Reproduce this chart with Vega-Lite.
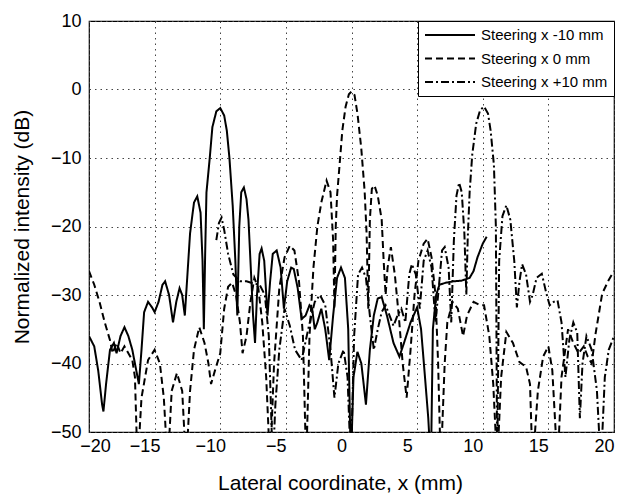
{
  "$schema": "https://vega.github.io/schema/vega-lite/v6.json",
  "width": 525,
  "height": 411,
  "autosize": {"type": "none"},
  "padding": {"left": 89, "top": 21, "right": 4, "bottom": 63},
  "config": {
    "font": "Liberation Sans",
    "view": {"stroke": "black", "strokeWidth": 1.2},
    "axis": {"labelFontSize": 18, "titleFontSize": 21, "titleFontWeight": "normal", "labelColor": "black", "titleColor": "black", "domain": false, "ticks": false, "labelFlush": false, "gridColor": "#444", "gridDash": [1.5, 4], "gridWidth": 1, "gridOpacity": 1},
    "legend": {"labelFontSize": 15, "labelColor": "black", "symbolStrokeColor": "black", "symbolStrokeWidth": 2, "symbolType": "stroke", "symbolSize": 2500, "fillColor": "white", "strokeColor": "black", "padding": 6, "rowPadding": 7.5, "clipHeight": 16, "labelOffset": 5, "orient": "top-right", "offset": 0, "title": null, "labelLimit": 300}
  },
  "datasets": {
    "m10": [
      {"x":-20,"y":-36},{"x":-19.6,"y":-37.5},{"x":-19.3,"y":-41},{"x":-19.0,"y":-46},{"x":-18.9,"y":-47},{"x":-18.7,"y":-43},{"x":-18.4,"y":-38},{"x":-18.1,"y":-37},{"x":-17.9,"y":-38.5},{"x":-17.6,"y":-36},{"x":-17.3,"y":-34.7},{"x":-17.0,"y":-36},{"x":-16.7,"y":-38},{"x":-16.4,"y":-41},{"x":-16.2,"y":-43},{"x":-16.0,"y":-38},{"x":-15.8,"y":-32.5},{"x":-15.5,"y":-31},{"x":-15.2,"y":-31.8},{"x":-15.0,"y":-32.5},{"x":-14.7,"y":-31},{"x":-14.4,"y":-28.5},{"x":-14.2,"y":-28},{"x":-13.9,"y":-30},{"x":-13.6,"y":-34},{"x":-13.35,"y":-31},{"x":-13.1,"y":-29},{"x":-12.9,"y":-30},{"x":-12.7,"y":-33},{"x":-12.5,"y":-27},{"x":-12.3,"y":-21},{"x":-12.0,"y":-16.5},{"x":-11.75,"y":-15.6},{"x":-11.5,"y":-18},{"x":-11.35,"y":-25},{"x":-11.25,"y":-35},{"x":-11.15,"y":-24},{"x":-11.05,"y":-15},{"x":-10.8,"y":-10},{"x":-10.6,"y":-5.5},{"x":-10.3,"y":-3.2},{"x":-10.0,"y":-2.7},{"x":-9.7,"y":-3.8},{"x":-9.5,"y":-6},{"x":-9.3,"y":-10},{"x":-9.05,"y":-17},{"x":-8.85,"y":-25},{"x":-8.7,"y":-33},{"x":-8.55,"y":-20},{"x":-8.4,"y":-15},{"x":-8.2,"y":-14.3},{"x":-8.0,"y":-16},{"x":-7.85,"y":-19},{"x":-7.7,"y":-25},{"x":-7.5,"y":-33},{"x":-7.35,"y":-37},{"x":-7.2,"y":-30},{"x":-7.0,"y":-24},{"x":-6.85,"y":-23.2},{"x":-6.65,"y":-25},{"x":-6.4,"y":-33},{"x":-6.2,"y":-28},{"x":-6.0,"y":-24},{"x":-5.7,"y":-23.5},{"x":-5.4,"y":-26},{"x":-5.15,"y":-32},{"x":-4.9,"y":-28},{"x":-4.6,"y":-26},{"x":-4.4,"y":-26.2},{"x":-4.1,"y":-29},{"x":-3.8,"y":-33.5},{"x":-3.5,"y":-33},{"x":-3.2,"y":-31.5},{"x":-3.0,"y":-32},{"x":-2.8,"y":-35},{"x":-2.6,"y":-34},{"x":-2.3,"y":-32},{"x":-2.0,"y":-35},{"x":-1.7,"y":-39.5},{"x":-1.4,"y":-33},{"x":-1.1,"y":-27.5},{"x":-0.8,"y":-26},{"x":-0.5,"y":-27.5},{"x":-0.25,"y":-35},{"x":-0.05,"y":-55},{"x":0.15,"y":-42},{"x":0.45,"y":-38.3},{"x":0.75,"y":-40},{"x":1.1,"y":-46},{"x":1.4,"y":-38},{"x":1.7,"y":-33},{"x":2.0,"y":-30.5},{"x":2.3,"y":-30.3},{"x":2.7,"y":-33},{"x":3.2,"y":-37},{"x":3.65,"y":-39},{"x":4.0,"y":-37},{"x":4.5,"y":-34},{"x":5.0,"y":-31.8},{"x":5.3,"y":-35},{"x":5.6,"y":-42},{"x":5.85,"y":-48},{"x":6.05,"y":-55},{"x":6.2,"y":-35},{"x":6.45,"y":-30},{"x":6.7,"y":-28.5},{"x":7.2,"y":-28.2},{"x":7.8,"y":-28},{"x":8.4,"y":-27.9},{"x":9.0,"y":-27.5},{"x":9.3,"y":-26.5},{"x":9.6,"y":-24.5},{"x":10.0,"y":-22.5},{"x":10.3,"y":-21.5}
    ],
    "z0": [
      {"x":-20,"y":-26.5},{"x":-19.6,"y":-28.5},{"x":-19.2,"y":-31},{"x":-18.8,"y":-34},{"x":-18.4,"y":-36.6},{"x":-18.2,"y":-38.5},{"x":-17.9,"y":-37},{"x":-17.6,"y":-38.5},{"x":-17.3,"y":-37.5},{"x":-17.0,"y":-38.5},{"x":-16.7,"y":-39.5},{"x":-16.5,"y":-42},{"x":-16.3,"y":-55},{"x":-16.0,"y":-45},{"x":-15.5,"y":-39.5},{"x":-15.0,"y":-38},{"x":-14.6,"y":-40},{"x":-14.3,"y":-45},{"x":-14.0,"y":-55},{"x":-13.7,"y":-44},{"x":-13.3,"y":-41.4},{"x":-12.9,"y":-44},{"x":-12.6,"y":-55},{"x":-12.3,"y":-44},{"x":-12.0,"y":-38},{"x":-11.6,"y":-34.7},{"x":-11.2,"y":-37},{"x":-10.9,"y":-40},{"x":-10.7,"y":-43},{"x":-10.4,"y":-41},{"x":-10.0,"y":-38.5},{"x":-9.7,"y":-32},{"x":-9.4,"y":-28.8},{"x":-9.1,"y":-28.2},{"x":-8.8,"y":-30},{"x":-8.5,"y":-34},{"x":-8.3,"y":-38.5},{"x":-8.0,"y":-36},{"x":-7.7,"y":-31},{"x":-7.4,"y":-27.5},{"x":-7.1,"y":-29},{"x":-6.8,"y":-34},{"x":-6.5,"y":-42},{"x":-6.2,"y":-55},{"x":-5.9,"y":-40},{"x":-5.5,"y":-29},{"x":-5.1,"y":-24.5},{"x":-4.7,"y":-22.8},{"x":-4.35,"y":-23.5},{"x":-4.0,"y":-28},{"x":-3.7,"y":-36},{"x":-3.45,"y":-55},{"x":-3.2,"y":-36},{"x":-2.9,"y":-26},{"x":-2.6,"y":-20},{"x":-2.3,"y":-16.5},{"x":-1.9,"y":-13.3},{"x":-1.6,"y":-15},{"x":-1.4,"y":-22},{"x":-1.3,"y":-32},{"x":-1.2,"y":-20},{"x":-1.1,"y":-15.5},{"x":-0.9,"y":-10.8},{"x":-0.7,"y":-6},{"x":-0.45,"y":-2.5},{"x":-0.2,"y":-0.7},{"x":0.0,"y":-0.3},{"x":0.23,"y":-0.8},{"x":0.46,"y":-3.6},{"x":0.74,"y":-8.5},{"x":1.0,"y":-14.8},{"x":1.15,"y":-21},{"x":1.28,"y":-32},{"x":1.4,"y":-19},{"x":1.55,"y":-14.5},{"x":1.75,"y":-14},{"x":2.0,"y":-15.5},{"x":2.3,"y":-19},{"x":2.45,"y":-25},{"x":2.6,"y":-30},{"x":2.75,"y":-26},{"x":3.0,"y":-23},{"x":3.3,"y":-27},{"x":3.6,"y":-33},{"x":3.9,"y":-40},{"x":4.2,"y":-45},{"x":4.5,"y":-38},{"x":4.8,"y":-30},{"x":5.1,"y":-25},{"x":5.5,"y":-22.5},{"x":5.8,"y":-21.8},{"x":6.1,"y":-24.5},{"x":6.4,"y":-30},{"x":6.6,"y":-40},{"x":6.8,"y":-55},{"x":7.1,"y":-40},{"x":7.3,"y":-34},{"x":7.7,"y":-31},{"x":8.1,"y":-32},{"x":8.5,"y":-36},{"x":8.8,"y":-33},{"x":9.3,"y":-31},{"x":9.8,"y":-31.5},{"x":10.1,"y":-31.5},{"x":10.5,"y":-36},{"x":10.8,"y":-43},{"x":11.1,"y":-55},{"x":11.4,"y":-42},{"x":11.8,"y":-35.4},{"x":12.3,"y":-37},{"x":12.8,"y":-39.8},{"x":13.3,"y":-40.5},{"x":13.6,"y":-43},{"x":13.8,"y":-55},{"x":14.2,"y":-44},{"x":14.6,"y":-39},{"x":15.0,"y":-37.5},{"x":15.3,"y":-41},{"x":15.7,"y":-55},{"x":16.0,"y":-42},{"x":16.5,"y":-35},{"x":16.9,"y":-37},{"x":17.3,"y":-38.5},{"x":17.7,"y":-37.5},{"x":18.0,"y":-39},{"x":18.3,"y":-40},{"x":18.6,"y":-35.6},{"x":19.1,"y":-29.8},{"x":19.6,"y":-27.8},{"x":20.0,"y":-26.5}
    ],
    "p10": [
      {"x":-10.3,"y":-22},{"x":-10.1,"y":-19.5},{"x":-9.9,"y":-18.7},{"x":-9.7,"y":-20.5},{"x":-9.4,"y":-24},{"x":-9.0,"y":-27},{"x":-8.5,"y":-28},{"x":-8.0,"y":-28},{"x":-7.5,"y":-28.3},{"x":-7.0,"y":-28.5},{"x":-6.6,"y":-30},{"x":-6.3,"y":-36},{"x":-6.0,"y":-55},{"x":-5.8,"y":-46},{"x":-5.5,"y":-38},{"x":-5.1,"y":-32},{"x":-4.7,"y":-34.5},{"x":-4.3,"y":-38},{"x":-3.8,"y":-39.5},{"x":-3.3,"y":-35},{"x":-2.8,"y":-31},{"x":-2.4,"y":-30},{"x":-2.0,"y":-31.5},{"x":-1.6,"y":-38},{"x":-1.3,"y":-45},{"x":-1.0,"y":-40},{"x":-0.6,"y":-38},{"x":-0.3,"y":-42},{"x":-0.05,"y":-55},{"x":0.2,"y":-36},{"x":0.5,"y":-27},{"x":0.8,"y":-26},{"x":1.1,"y":-27.5},{"x":1.4,"y":-33},{"x":1.7,"y":-38},{"x":2.0,"y":-35},{"x":2.3,"y":-32.5},{"x":2.6,"y":-31.5},{"x":2.9,"y":-33},{"x":3.2,"y":-34.5},{"x":3.5,"y":-33},{"x":3.8,"y":-32},{"x":4.1,"y":-34},{"x":4.4,"y":-27},{"x":4.6,"y":-25.5},{"x":4.9,"y":-27},{"x":5.2,"y":-32},{"x":5.5,"y":-25},{"x":5.8,"y":-23.5},{"x":6.1,"y":-26},{"x":6.4,"y":-34},{"x":6.6,"y":-30},{"x":6.9,"y":-23.5},{"x":7.1,"y":-23},{"x":7.4,"y":-26},{"x":7.6,"y":-34},{"x":7.8,"y":-22},{"x":8.0,"y":-15.5},{"x":8.2,"y":-13.6},{"x":8.4,"y":-15},{"x":8.6,"y":-21},{"x":8.75,"y":-30},{"x":8.85,"y":-22},{"x":9.0,"y":-15},{"x":9.2,"y":-9.5},{"x":9.5,"y":-5},{"x":9.8,"y":-3},{"x":10.1,"y":-2.5},{"x":10.4,"y":-3.5},{"x":10.6,"y":-6},{"x":10.85,"y":-11},{"x":11.0,"y":-20},{"x":11.1,"y":-55},{"x":11.25,"y":-25},{"x":11.5,"y":-18.5},{"x":11.8,"y":-16.9},{"x":12.1,"y":-19},{"x":12.4,"y":-25},{"x":12.6,"y":-31.8},{"x":12.8,"y":-28},{"x":13.0,"y":-25.5},{"x":13.3,"y":-27},{"x":13.6,"y":-31},{"x":13.8,"y":-30},{"x":14.1,"y":-27.5},{"x":14.5,"y":-26.9},{"x":14.85,"y":-29.8},{"x":15.1,"y":-31.5},{"x":15.4,"y":-31},{"x":15.7,"y":-30.8},{"x":16.0,"y":-34},{"x":16.3,"y":-42},{"x":16.6,"y":-36.5},{"x":16.9,"y":-34},{"x":17.2,"y":-35.5},{"x":17.4,"y":-48},{"x":17.6,"y":-40},{"x":17.9,"y":-36},{"x":18.3,"y":-38},{"x":18.7,"y":-44},{"x":19.0,"y":-55},{"x":19.3,"y":-42},{"x":19.6,"y":-38},{"x":20.0,"y":-36}
    ]
  },
  "encoding": {
    "x": {"field": "x", "type": "quantitative", "scale": {"domain": [-20, 20], "nice": false, "zero": false}, "axis": {"values": [-20, -15, -10, -5, 0, 5, 10, 15, 20], "title": "Lateral coordinate, x (mm)", "labelPadding": 5, "titlePadding": 17, "titleX": 251, "labelOffset": {"condition": {"test": "datum.value == -20", "value": 6}, "value": -10}}},
    "y": {"field": "y", "type": "quantitative", "scale": {"domain": [-50, 10], "nice": false, "zero": false}, "axis": {"values": [-50, -40, -30, -20, -10, 0, 10], "title": "Normalized intensity (dB)", "labelPadding": 8, "titlePadding": 18}}
  },
  "layer": [
    {"data": {"name": "m10"}, "mark": {"type": "line", "clip": true, "color": "black", "strokeWidth": 2}, "encoding": {"strokeDash": {"datum": "Steering x -10 mm", "type": "nominal", "scale": {"domain": ["Steering x -10 mm", "Steering x 0 mm", "Steering x +10 mm"], "range": [[1, 0], [7, 4], [8, 3, 2, 3]]}}}},
    {"data": {"name": "z0"}, "mark": {"type": "line", "clip": true, "color": "black", "strokeWidth": 2}, "encoding": {"strokeDash": {"datum": "Steering x 0 mm", "type": "nominal"}}},
    {"data": {"name": "p10"}, "mark": {"type": "line", "clip": true, "color": "black", "strokeWidth": 2}, "encoding": {"strokeDash": {"datum": "Steering x +10 mm", "type": "nominal"}}}
  ]
}
